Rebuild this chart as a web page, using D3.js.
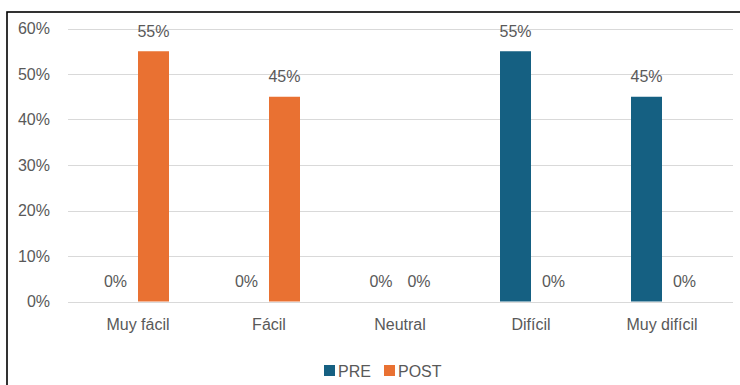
<!DOCTYPE html>
<html><head><meta charset="utf-8">
<script src="https://cdn.jsdelivr.net/npm/d3@7"></script>
<style>
html,body{margin:0;padding:0;background:#fff;}
svg{display:block;}
text{font-family:"Liberation Sans",Arial,sans-serif;fill:#595959;}
</style></head>
<body>
<script>
const categories = ["Muy fácil", "Fácil", "Neutral", "Difícil", "Muy difícil"];
const seriesNames = ["PRE", "POST"];
const preValues = [0, 0, 0, 0.55, 0.45];
const postValues = [0.55, 0.45, 0, 0, 0];
const yTicks = [0, 0.1, 0.2, 0.3, 0.4, 0.5, 0.6];
const colors = ["#156082", "#E97132"];

const W = 740, H = 385;
const svg = d3.select("body").append("svg").attr("width", W).attr("height", H);

// chart border
svg.append("rect").attr("x", 7).attr("y", 12).attr("width", W + 10).attr("height", H + 10)
  .attr("fill", "none").attr("stroke", "#000").attr("stroke-width", 1.6);

const x0 = d3.scaleBand().domain(categories).range([72.5, 727.5]).paddingInner(0).paddingOuter(0);
const x1 = d3.scaleBand().domain(seriesNames).range([0, x0.bandwidth()]).paddingInner(0).paddingOuter(1.113);
const y = d3.scaleLinear().domain([0, 0.6]).range([301.5, 28.5]);

// gridlines
svg.append("g").selectAll("line").data(yTicks).join("line")
  .attr("x1", 68).attr("x2", 733)
  .attr("y1", d => Math.round(y(d)) + 0.5).attr("y2", d => Math.round(y(d)) + 0.5)
  .attr("stroke", "#d9d9d9").attr("stroke-width", 1);

// y axis labels
const yAxis = d3.axisLeft(y).tickValues(yTicks).tickFormat(d3.format(".0%")).tickSize(0).tickPadding(0);
const gy = svg.append("g").attr("transform", "translate(50,0)").call(yAxis);
gy.select(".domain").remove();
gy.selectAll("text").style("font-size", "16px").attr("fill", "#595959")
  .style("font-family", "'Liberation Sans',Arial,sans-serif");

// x axis labels
const xAxis = d3.axisBottom(x0).tickSize(0).tickPadding(0);
const gx = svg.append("g").attr("transform", "translate(0,319)").call(xAxis);
gx.select(".domain").remove();
gx.selectAll("text").style("font-size", "16px").attr("fill", "#595959")
  .style("font-family", "'Liberation Sans',Arial,sans-serif");

const rows = categories.map((c, i) => ({cat: c, vals: [preValues[i], postValues[i]]}));

const groups = svg.append("g").selectAll("g").data(rows).join("g")
  .attr("transform", d => `translate(${x0(d.cat)},0)`);

groups.selectAll("rect").data(d => d.vals.map((v, j) => ({v, s: seriesNames[j], j})))
  .join("rect")
  .attr("x", d => x1(d.s)).attr("width", x1.bandwidth())
  .attr("y", d => y(d.v)).attr("height", d => y(0) - y(d.v))
  .attr("fill", d => colors[d.j]);

// data labels
groups.selectAll("text.lbl").data(d => d.vals.map((v, j) => ({v, s: seriesNames[j], j, other: d.vals[1 - j]})))
  .join("text").attr("class", "lbl")
  .attr("x", d => {
    let cx = x1(d.s) + x1.bandwidth() / 2;
    if (d.v === 0) {
      const shift = d.other === 0 ? 3.5 : 7;
      cx += d.j === 0 ? -shift : shift;
    }
    return cx;
  })
  .attr("y", d => y(d.v) - 14.5)
  .attr("text-anchor", "middle")
  .style("font-size", "16px")
  .text(d => d3.format(".0%")(d.v));

// legend
const legend = svg.append("g");
const legX = [324, 384];
seriesNames.forEach((s, i) => {
  legend.append("rect").attr("x", legX[i]).attr("y", 365).attr("width", 11).attr("height", 11).attr("fill", colors[i]);
  legend.append("text").attr("x", legX[i] + 14).attr("y", 376.5).style("font-size", "16px").text(s);
});
</script>
</body></html>
